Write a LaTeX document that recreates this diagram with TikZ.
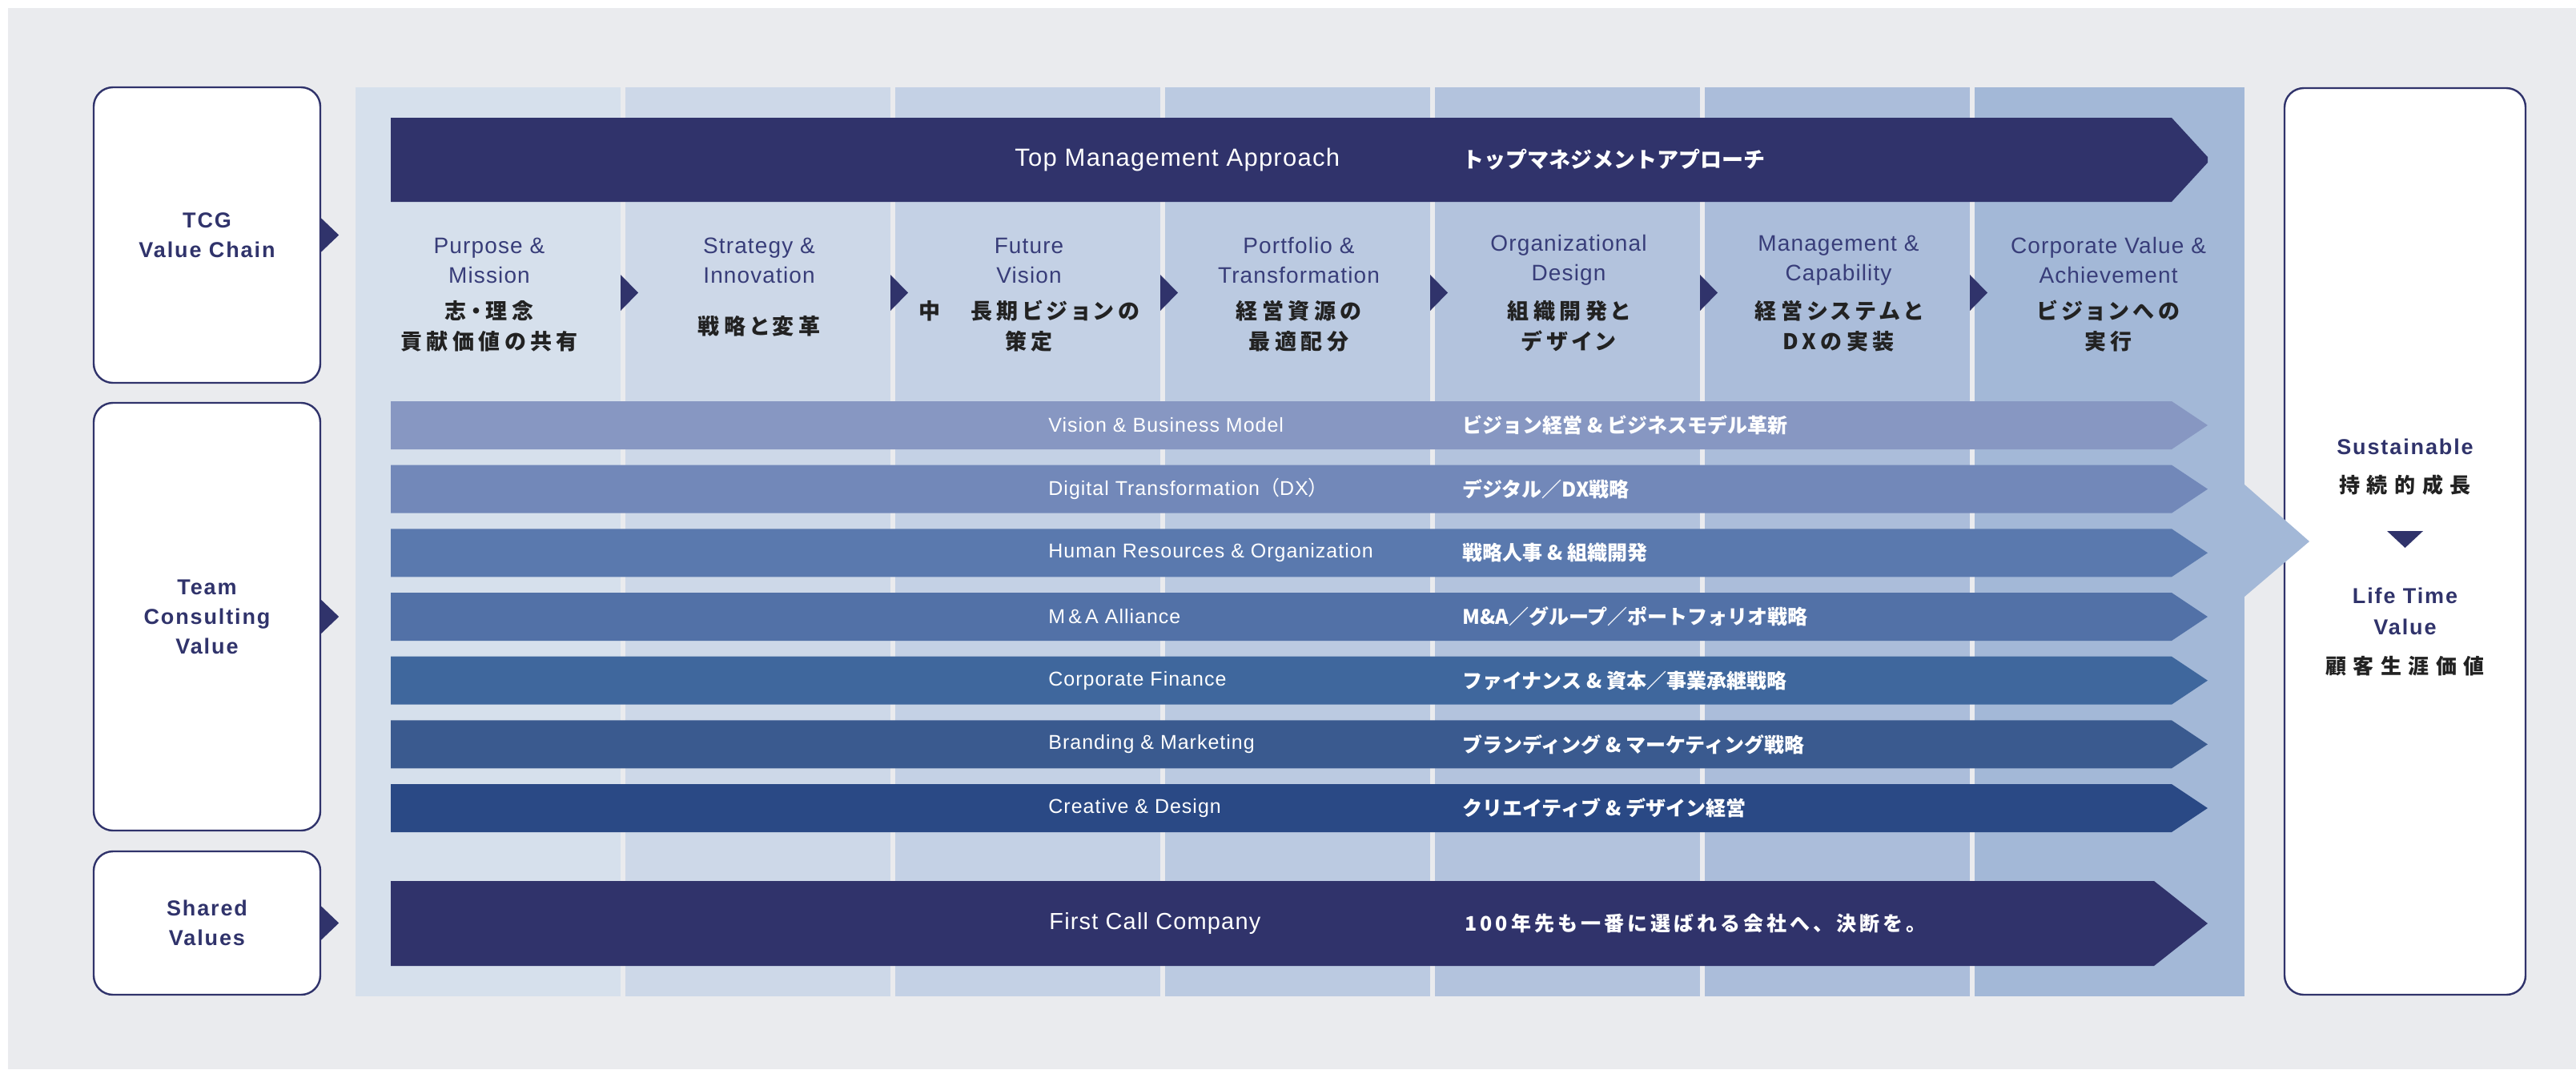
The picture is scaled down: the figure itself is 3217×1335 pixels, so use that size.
\documentclass[tikz,border=0pt]{standalone}
\usepackage{fontspec}
\setmainfont{Liberation Sans}[LetterSpace=4]
\newfontfamily\boxfont{Liberation Sans}[LetterSpace=7]
\newfontfamily\jpfont{Noto Sans CJK JP}
\newfontfamily\jpwide{Noto Sans CJK JP}[LetterSpace=33]
\newfontfamily\jpcol{Noto Sans CJK JP}[LetterSpace=20,RawFeature=+palt]
\newfontfamily\jpmid{Noto Sans CJK JP}[LetterSpace=16]
\usetikzlibrary{positioning}

\definecolor{navy}{HTML}{30336B}
\definecolor{pagegray}{HTML}{EAEBEE}
\definecolor{entext}{HTML}{383D79}
\definecolor{jptext}{HTML}{222222}
\definecolor{colA}{HTML}{D6E0EC}
\definecolor{colB}{HTML}{CDD8E8}
\definecolor{colC}{HTML}{C4D1E5}
\definecolor{colD}{HTML}{BBCAE1}
\definecolor{colE}{HTML}{B3C3DD}
\definecolor{colF}{HTML}{ABBDDA}
\definecolor{colG}{HTML}{A3B8D7}
\definecolor{bandA}{HTML}{8797C2}
\definecolor{bandB}{HTML}{7288B9}
\definecolor{bandC}{HTML}{5A79AE}
\definecolor{bandD}{HTML}{5271A7}
\definecolor{bandE}{HTML}{3F679D}
\definecolor{bandF}{HTML}{3A5A8F}
\definecolor{bandG}{HTML}{2A4985}

\begin{document}
\begin{tikzpicture}[x=0.5pt,y=-0.5pt,
  sidebox/.style={draw=navy,line width=1.2pt,fill=white,rounded corners=12pt,
    text=navy,align=center,font=\boxfont\bfseries\fontsize{13.5}{18.5}\selectfont},
  coltitle/.style={text=entext,align=center,font=\fontsize{14}{18.5}\selectfont},
  coljp/.style={text=jptext,align=center,font=\jpcol\bfseries\fontsize{13.5}{19}\selectfont},
  bartext/.style={anchor=west,inner sep=0pt,text=white},
  rightlabel/.style={text=navy,align=center,font=\boxfont\bfseries\fontsize{13.5}{19.5}\selectfont},
  rightjp/.style={text=jptext,align=center,font=\jpwide\bfseries\fontsize{13}{18.5}\selectfont}]
\useasboundingbox (0,0) rectangle (3217,1335);
\fill[pagegray] (10,10) rectangle (3217,1335);

% seven columns of the value chain
\foreach \c [count=\i from 0] in {colA,colB,colC,colD,colE,colF} {
	\fill[\c] (444+337*\i,109) rectangle (775+337*\i,1244);
}
\fill[colG] (2466,109) rectangle (2803,1244);

% outcome box on the right
\node[sidebox,minimum width=150.5pt,minimum height=566pt] (ltvbox) at (3003.5,676) {};
\fill[colG] (2803,605) -- (2884,676) -- (2803,745) -- cycle;
\node[rightlabel] (sus) at (3003.5,558) {Sustainable};
\node[rightjp] (susja) at (3003.5,606) {持続的成長};
\fill[navy] (2981,663) -- (3026,663) -- (3003.5,684) -- cycle;
\node[rightlabel] (ltv) at (3003.5,763) {Life Time\\Value};
\node[rightjp] (ltvja) at (3003.5,832) {顧客生涯価値};

% boxes on the left
\node[sidebox,minimum width=141.5pt,minimum height=184.5pt] (tcg) at (258.5,293.5) {TCG\\Value Chain};
\node[sidebox,minimum width=141.5pt,minimum height=267pt] (team) at (258.5,770) {Team\\Consulting\\Value};
\node[sidebox,minimum width=141.5pt,minimum height=89.5pt] (shared) at (258.5,1152.5) {Shared\\Values};
\foreach \b in {tcg,team,shared} {
	\fill[navy] ([yshift=10.5pt]\b.east) -- ([xshift=11pt]\b.east) -- ([yshift=-10.5pt]\b.east) -- cycle;
}

% top management bar
\fill[navy] (488,147) -- (2712,147) -- (2757,196) -- (2757,203) -- (2712,252) -- (488,252) -- cycle;
\node[bartext,font=\fontsize{15.5}{18}\selectfont] (tma) at (1267,199) {Top Management Approach};
\node[bartext,font=\jpfont\bfseries\fontsize{13.5}{16}\selectfont] (tmaja) at (1826,199) {トップマネジメントアプローチ};

% column titles
\foreach \en/\ja [count=\i from 0] in {
	Purpose \&\\Mission/志・理念\\貢献価値の共有,
	Strategy \&\\Innovation/戦略と変革,
	Future\\Vision/中　長期ビジョンの\\策定,
	Portfolio \&\\Transformation/経営資源の\\最適配分,
	Organizational\\Design/組織開発と\\デザイン,
	Management \&\\Capability/経営システムと\\DXの実装,
	Corporate Value \&\\Achievement/ビジョンへの\\実行} {
	\node[coltitle] (ct\i) at (611+337*\i,325) {\en};
	\node[coljp] (cj\i) at (611+337*\i,407) {\ja};
}
\foreach \i in {1,...,6} {
	\fill[navy] (438+337*\i,343) -- (460+337*\i,365.5) -- (438+337*\i,388) -- cycle;
}

% consulting bands
\foreach \c/\en/\ja [count=\i from 0] in {
	bandA/Vision \& Business Model/ビジョン経営 \& ビジネスモデル革新,
	bandB/Digital Transformation{\jpfont（}DX{\jpfont）}/デジタル／DX戦略,
	bandC/Human Resources \& Organization/戦略人事 \& 組織開発,
	bandD/M\,\&\,A Alliance/M\&A／グループ／ポートフォリオ戦略,
	bandE/Corporate Finance/ファイナンス \& 資本／事業承継戦略,
	bandF/Branding \& Marketing/ブランディング \& マーケティング戦略,
	bandG/Creative \& Design/クリエイティブ \& デザイン経営} {
	\pgfmathsetmacro\bandy{501+79.67*\i}
	\fill[\c] (488,\bandy) -- (2712,\bandy) -- (2757,\bandy+30) -- (2712,\bandy+60) -- (488,\bandy+60) -- cycle;
	\node[bartext,font=\fontsize{12.5}{15}\selectfont] (en\i) at (1309,\bandy+30) {\en};
	\node[bartext,font=\jpfont\bfseries\fontsize{12.5}{15}\selectfont] (ja\i) at (1826,\bandy+30) {\ja};
}

% shared values bar
\fill[navy] (488,1100) -- (2690,1100) -- (2757,1153) -- (2690,1206) -- (488,1206) -- cycle;
\node[bartext,font=\fontsize{14.5}{17}\selectfont] (fcc) at (1310,1153) {First Call Company};
\node[bartext,font=\jpmid\bfseries\fontsize{12.5}{15}\selectfont] (fccja) at (1829,1153) {100年先も一番に選ばれる会社へ、決断を。};
\end{tikzpicture}
\end{document}
